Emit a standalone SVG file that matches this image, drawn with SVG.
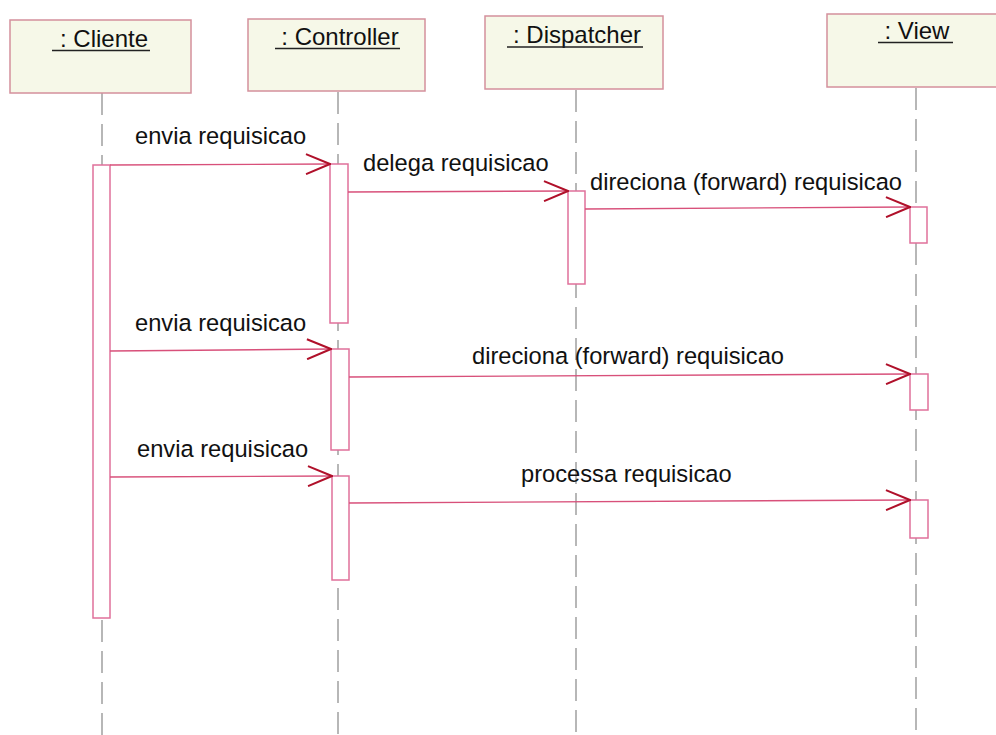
<svg xmlns="http://www.w3.org/2000/svg" width="996" height="735" viewBox="0 0 996 735">
  <defs>
    <marker id="open" viewBox="0 0 26 22" refX="25" refY="11" markerWidth="26" markerHeight="22" markerUnits="userSpaceOnUse" orient="auto">
      <path d="M1,1 L25,11 L1,21" fill="none" stroke="#b0102a" stroke-width="2"/>
    </marker>
  </defs>
  <style>
    .obj { fill: #f6f8e8; stroke: #d4909c; stroke-width: 1.5; }
    .name { font-family: "Liberation Sans", Arial, sans-serif; font-size: 24px; fill: #111; text-anchor: middle; }
    .ul { stroke: #222; stroke-width: 1.6; }
    .life { stroke: #888; stroke-width: 1.2; stroke-dasharray: 22 9; fill: none; }
    .act { fill: #fff; stroke: #e0709a; stroke-width: 1.5; }
    .msg { stroke: #d8507a; stroke-width: 1.4; fill: none; marker-end: url(#open); }
    .lbl { font-family: "Liberation Sans", Arial, sans-serif; font-size: 23.7px; fill: #111; }
  </style>
  <rect width="996" height="735" fill="#fff"/>

  <!-- lifelines -->
  <g id="lifelines">
    <path class="life" d="M102,93 V735"/>
    <path class="life" d="M338,92 V735"/>
    <path class="life" d="M576,90 V735"/>
    <path class="life" d="M916,88 V735"/>
  </g>

  <g id="cliente">
    <rect class="obj" x="10" y="20" width="181" height="73"/>
    <text class="name" x="104" y="47">: Cliente</text>
    <line class="ul" x1="52" y1="50.5" x2="150" y2="50.5"/>
    <rect class="act" x="93" y="165" width="17" height="453"/>
  </g>

  <g id="controller">
    <rect class="obj" x="248" y="19" width="177" height="72"/>
    <text class="name" x="340" y="45">: Controller</text>
    <line class="ul" x1="275" y1="48.5" x2="400" y2="48.5"/>
    <rect class="act" x="330" y="164" width="18" height="159"/>
    <rect class="act" x="331" y="349" width="18" height="101"/>
    <rect class="act" x="332" y="476" width="17" height="104"/>
  </g>

  <g id="dispatcher">
    <rect class="obj" x="485" y="16" width="178" height="73"/>
    <text class="name" x="577" y="43">: Dispatcher</text>
    <line class="ul" x1="507" y1="47" x2="643" y2="47"/>
    <rect class="act" x="568" y="191" width="17" height="93"/>
  </g>

  <g id="view">
    <rect class="obj" x="827" y="14" width="175" height="73"/>
    <text class="name" x="917" y="39">: View</text>
    <line class="ul" x1="878" y1="42.5" x2="953" y2="42.5"/>
    <rect class="act" x="910" y="207" width="17" height="36"/>
    <rect class="act" x="910" y="374" width="18" height="36"/>
    <rect class="act" x="910" y="500" width="18" height="38"/>
  </g>

  <g id="connectors">
    <path class="msg" d="M110,165 L330,164"/>
    <path class="msg" d="M348,192 L568,191"/>
    <path class="msg" d="M585,209 L910,207"/>
    <path class="msg" d="M110,351 L331,349"/>
    <path class="msg" d="M349,377 L910,374"/>
    <path class="msg" d="M110,477 L332,476"/>
    <path class="msg" d="M349,503 L910,500"/>
    <text class="lbl" x="135" y="144">envia requisicao</text>
    <text class="lbl" x="363" y="171">delega requisicao</text>
    <text class="lbl" x="590" y="190">direciona (forward) requisicao</text>
    <text class="lbl" x="135" y="331">envia requisicao</text>
    <text class="lbl" x="472" y="364">direciona (forward) requisicao</text>
    <text class="lbl" x="137" y="457">envia requisicao</text>
    <text class="lbl" x="521" y="482">processa requisicao</text>
  </g>
</svg>
